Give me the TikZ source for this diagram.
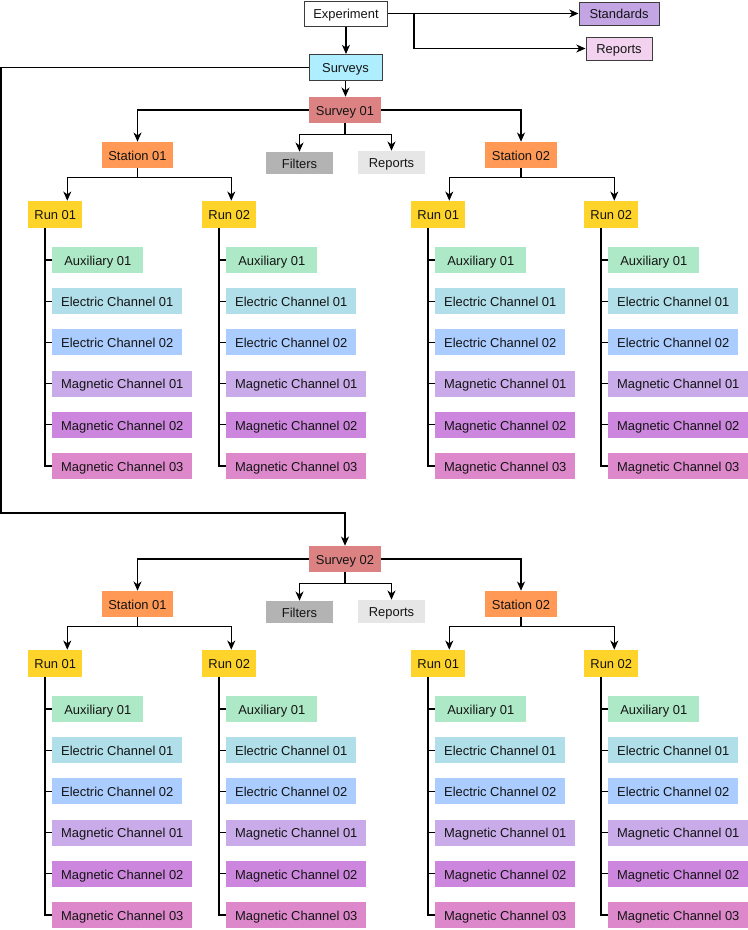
\documentclass[tikz,border=0pt]{standalone}
\usepackage{fontspec}
\setmainfont{Liberation Sans}
\usetikzlibrary{arrows.meta,positioning,calc}
\definecolor{ink}{RGB}{20,20,20}
\definecolor{edge}{RGB}{60,60,60}
\definecolor{stdpurple}{HTML}{C3A5E3}
\definecolor{toppink}{HTML}{F2D2EE}
\definecolor{surcyan}{HTML}{AEEEFF}
\definecolor{survred}{HTML}{DC8282}
\definecolor{stnorange}{HTML}{FF9955}
\definecolor{filtgray}{HTML}{B3B3B3}
\definecolor{repgray}{HTML}{E6E6E6}
\definecolor{runyellow}{HTML}{FFD42A}
\definecolor{auxgreen}{HTML}{AEE9C7}
\definecolor{elecone}{HTML}{B0DFEA}
\definecolor{electwo}{HTML}{AACCFF}
\definecolor{magone}{HTML}{C8ABE8}
\definecolor{magtwo}{HTML}{CD86DD}
\definecolor{magthree}{HTML}{DD88CB}

\begin{document}
\begin{tikzpicture}[x=0.025cm,y=-0.025cm,
      every node/.style={font=\fontsize{9.2}{11}\selectfont,text=ink},
      box/.style={rectangle,inner sep=0pt,minimum height=0.65cm,
        text height=0.74em,text depth=0pt},
      framed/.style={box,draw=edge,line width=0.7pt},
      link/.style={line width=0.75pt,draw=black},
      arr/.style={link,-{Stealth[length=2.3mm,width=2mm,inset=0.7mm]}}
    ]
      \useasboundingbox (0,0) rectangle (748,930);

      % top of the tree
      \node[framed,fill=white,minimum width=2.075cm,minimum height=0.625cm]
        (exp) at (346,13.5) {Experiment};
      \node[framed,fill=stdpurple,minimum width=2cm,minimum height=0.575cm]
        (std) at (619,13.5) {Standards};
      \node[framed,fill=toppink,minimum width=1.65cm,minimum height=0.575cm]
        (rep) at (619,48.5) {Reports};
      \node[framed,fill=surcyan,minimum width=1.825cm]
        (surs) at (345.5,67.5) {Surveys};
      \coordinate (bend) at (1,513);

      \draw[arr] (exp.east) -- (std.west);
      \draw[arr] (exp.east) -- ++(26,0) |- (rep.west);
      \draw[arr] (exp.south) -- (exp.south |- surs.north);

      % one block per survey
      \foreach \sn/\dy in {1/0,2/449} {
        \node[box,fill=survred,minimum width=1.8cm]
          (sv\sn) at (345,110+\dy) {Survey 0\sn};
        \node[box,fill=stnorange,minimum width=1.775cm]
          (st\sn1) at (137.5,155+\dy) {Station 01};
        \node[box,fill=stnorange,minimum width=1.775cm]
          (st\sn2) at (521,155+\dy) {Station 02};
        \node[box,fill=filtgray,minimum width=1.65cm,minimum height=0.55cm]
          (flt\sn) at (299.5,163+\dy) {Filters};
        \node[box,fill=repgray,minimum width=1.65cm,minimum height=0.575cm]
          (rp\sn) at (391.5,162.5+\dy) {Reports};

        \draw[arr] (sv\sn.west) -| (st\sn1.north);
        \draw[arr] (sv\sn.east) -| (st\sn2.north);
        \draw[arr] (sv\sn.south) -- ++(0,11) -| (flt\sn.north);
        \draw[arr] (sv\sn.south) -- ++(0,11) -| (rp\sn.north);

        \foreach \tn/\rn/\xl/\ax in {1/1/28/39,1/2/202/29,2/1/411/38,2/2/584/30} {
          \node[box,fill=runyellow,minimum width=1.35cm,minimum height=0.675cm,
            anchor=west] (run\sn\tn\rn) at (\xl,214.5+\dy) {Run 0\rn};
          \draw[arr] (st\sn\tn.south) -- ++(0,9)
            -| ($(run\sn\tn\rn.north)+(\ax-27,0)$);

          \foreach \lab/\col/\bw [count=\kk from 0] in {
              Auxiliary 01/auxgreen/2.275cm,
              Electric Channel 01/elecone/3.25cm,
              Electric Channel 02/electwo/3.25cm,
              Magnetic Channel 01/magone/3.5cm,
              Magnetic Channel 02/magtwo/3.5cm,
              Magnetic Channel 03/magthree/3.5cm} {
            \node[box,fill=\col,minimum width=\bw,anchor=west]
              (ch\sn\tn\rn\kk) at (\xl+24,260+41.2*\kk+\dy) {\lab};
            \draw[link] ($(run\sn\tn\rn.south west)+(17,0)$)
              |- (ch\sn\tn\rn\kk.west);
          }
        }
      }

      \draw[arr] (surs.south) -- (surs.south |- sv1.north);
      \draw[arr] (surs.west) -| (bend) -| (sv2.north);
    \end{tikzpicture}
\end{document}
